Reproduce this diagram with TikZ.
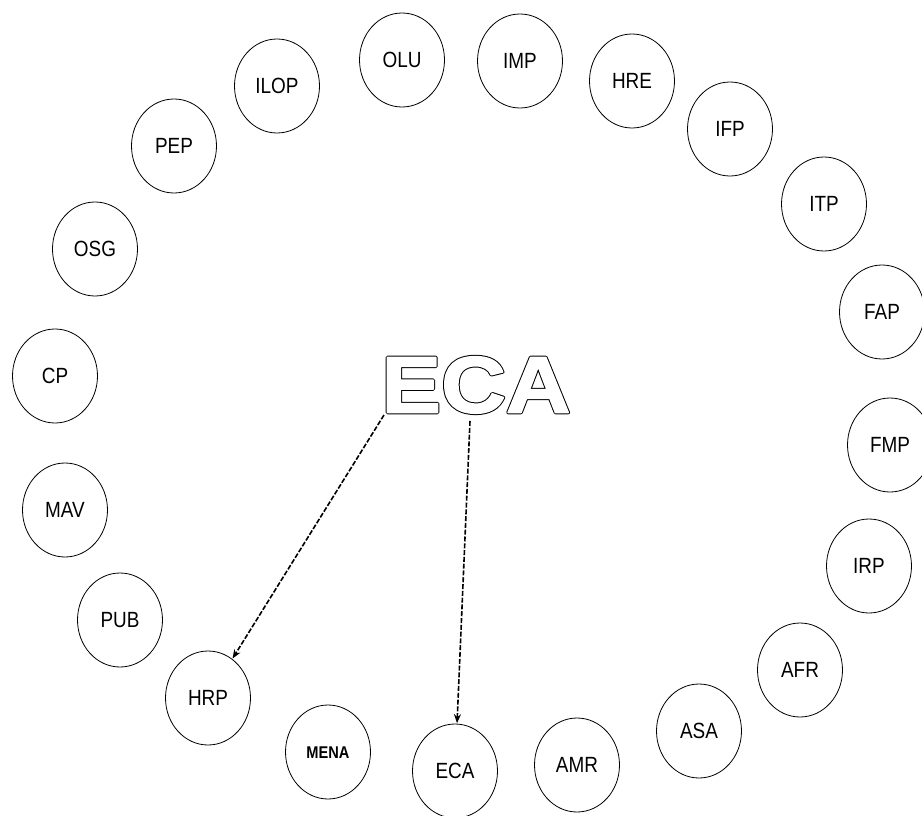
\documentclass[tikz,border=0pt]{standalone}
\usepackage{fontspec}
\usetikzlibrary{shapes.geometric,arrows.meta,calc}
\newfontfamily\lblfont[FakeStretch=0.86]{Liberation Sans}
\newfontfamily\hubfont[FakeStretch=1.12]{Liberation Sans}
% heavy hollow letters: a wide black stroke under a narrower white stroke-and-fill
\newcommand\hollowtext[1]{%
  \rlap{\special{pdf:literal direct 1 j 0 0 0 RG 3.6 w 1 Tr}#1}%
  {\color{white}\special{pdf:literal direct 1 j 1 1 1 RG 1.6 w 2 Tr}#1}%
  \special{pdf:literal direct 0 Tr}}
\begin{document}
\begin{tikzpicture}[x=1pt,y=-1pt,
  unit/.style={ellipse,draw=black,line width=0.8pt,minimum width=85pt,minimum height=94pt,
    inner sep=0pt,font=\lblfont\fontsize{22}{22}\selectfont,text height=15.5pt,text depth=0pt},
  boldunit/.style={unit,font=\lblfont\bfseries\fontsize{17}{17}\selectfont,text height=12pt},
  title/.style={anchor=base,inner sep=0pt,font=\hubfont\bfseries\fontsize{80}{80}\selectfont},
  link/.style={line width=1.6pt,dash pattern=on 5pt off 1.8pt,-{Stealth[length=9pt,width=7pt]},shorten >=0.5pt}]
\useasboundingbox (0,0) rectangle (922,816);

% ring of units
\node[unit] (olu)  at (402,60)  {OLU};
\node[unit] (imp)  at (520,61)  {IMP};
\node[unit] (hre)  at (632,81)  {HRE};
\node[unit] (ifp)  at (730,129) {IFP};
\node[unit] (itp)  at (824,204) {ITP};
\node[unit] (fap)  at (882,312) {FAP};
\node[unit] (fmp)  at (890,445) {FMP};
\node[unit] (irp)  at (869,566) {IRP};
\node[unit] (afr)  at (800,670) {AFR};
\node[unit] (asa)  at (699,731) {ASA};
\node[unit] (amr)  at (577,765) {AMR};
\node[unit] (eca)  at (455,771) {ECA};
\node[boldunit] (mena) at (328,752) {MENA};
\node[unit] (hrp)  at (208,698) {HRP};
\node[unit] (pub)  at (120,620) {PUB};
\node[unit] (mav)  at (65,510)  {MAV};
\node[unit] (cp)   at (55,376)  {CP};
\node[unit] (osg)  at (95,249)  {OSG};
\node[unit] (pep)  at (174,146) {PEP};
\node[unit] (ilop) at (277,86)  {ILOP};

% connectors from the title
\coordinate (s1) at (384,415);
\coordinate (s2) at (470,421);
\draw[link] (s1) -- (hrp);
\draw[link] (s2) -- (eca);

% central hollow title
\node[title] (hub) at (476,412.5) {\hollowtext{ECA}};
\end{tikzpicture}
\end{document}
